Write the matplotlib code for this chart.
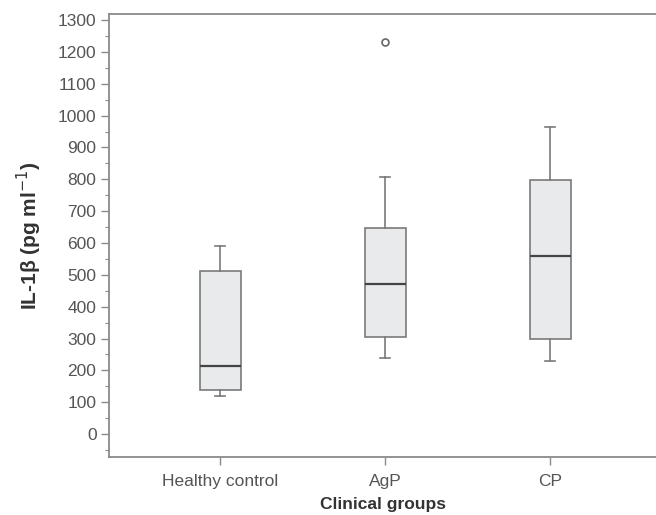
import matplotlib.pyplot as plt
from matplotlib.ticker import MultipleLocator

plt.rcParams['font.family'] = ['Liberation Sans', 'DejaVu Sans']

# group names and box statistics (pg/ml)
groups = ['Healthy control', 'AgP', 'CP']
whisker_low = [120, 238, 229]
q1 = [138, 304, 299]
median = [213, 471, 559]
q3 = [513, 646, 797]
whisker_high = [590, 808, 963]
outliers = [[], [1230], []]

stats = []
for i, name in enumerate(groups):
    stats.append({'label': name, 'whislo': whisker_low[i], 'q1': q1[i],
                  'med': median[i], 'q3': q3[i], 'whishi': whisker_high[i],
                  'fliers': outliers[i]})

fig = plt.figure(figsize=(6.56, 5.15), dpi=100)
ax = fig.add_axes([109/656, 58/515, 547/656, 443/515])

edge = '#7a7a7a'
ax.bxp(stats, positions=[1, 2, 3], widths=0.25, patch_artist=True,
       boxprops=dict(facecolor='#e8eaec', edgecolor=edge, linewidth=1.2),
       medianprops=dict(color='#444444', linewidth=1.6),
       whiskerprops=dict(color=edge, linewidth=1.2),
       capprops=dict(color=edge, linewidth=1.2),
       flierprops=dict(marker='o', markerfacecolor='none', markeredgecolor='#666666',
                       markersize=5, markeredgewidth=1.2),
       capwidths=0.06)

ax.set_xlim(0.325, 3.64)
ax.set_ylim(-72, 1319)
ax.yaxis.set_major_locator(MultipleLocator(100))
ax.yaxis.set_minor_locator(MultipleLocator(50))

for s in ax.spines.values():
    s.set_color('#8a8a8a')
    s.set_linewidth(1.3)
ax.spines['right'].set_visible(False)

ax.tick_params(axis='both', which='major', direction='out', length=6, width=1,
               color='#8a8a8a', labelsize=12.5, labelcolor='#555555', pad=3)
ax.tick_params(axis='x', which='major', pad=6)
ax.tick_params(axis='y', which='minor', direction='out', length=3, width=0.8, color='#8a8a8a')

ax.set_ylabel('IL-1β (pg ml$^{-1}$)', fontsize=15, fontweight='bold', color='#333333', labelpad=10)
ax.set_xlabel('Clinical groups', fontsize=12.5, fontweight='bold', color='#333333', labelpad=6)

plt.savefig('out.png', dpi=100)
